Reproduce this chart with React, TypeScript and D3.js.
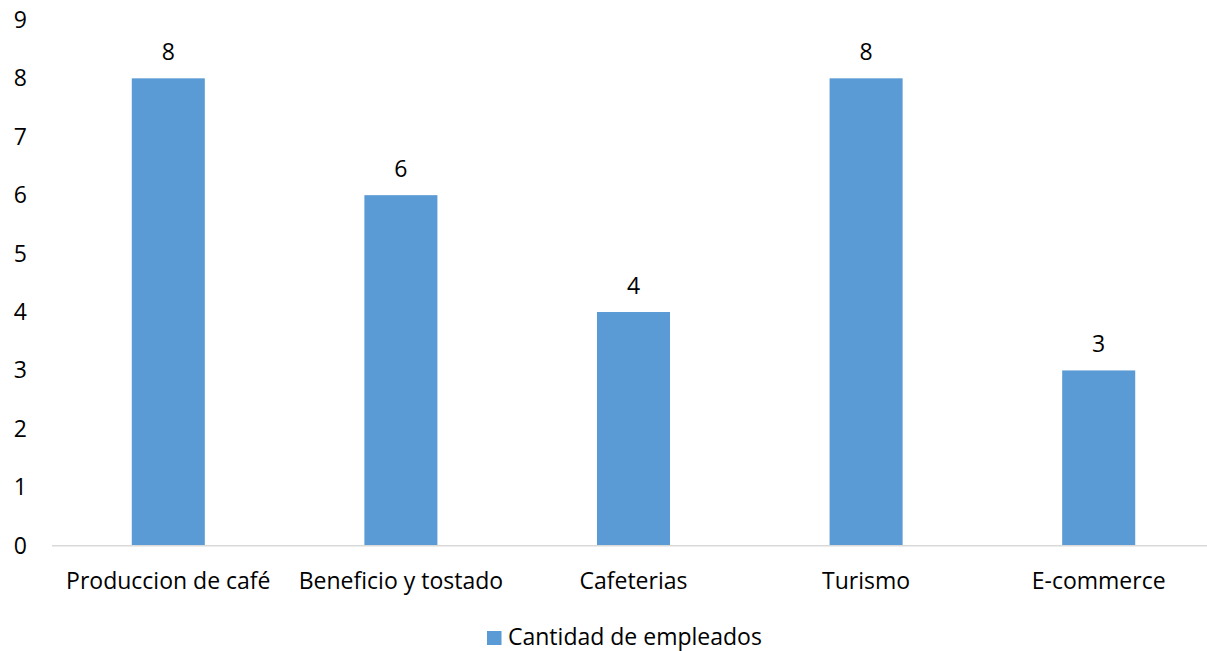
import React from "react";
import * as d3 from "d3";

const categories = ["Produccion de café", "Beneficio y tostado", "Cafeterias", "Turismo", "E-commerce"];
const empleados = [8, 6, 4, 8, 3];
const yTicks = [0, 1, 2, 3, 4, 5, 6, 7, 8, 9];
const seriesName = "Cantidad de empleados";

const W = 1207;
const H = 651;
const FONT = "'Open Sans', sans-serif";
const FS = 23;
const BAR = "#5B9BD5";

export default function App() {
  const x = d3
    .scaleBand<string>()
    .domain(categories)
    .range([52, 1215])
    .paddingInner(0.686)
    .paddingOuter(0.343);
  const y = d3.scaleLinear().domain([0, 9]).range([545.7, 19.9]);

  return (
    <svg
      width={W}
      height={H}
      style={{ position: "absolute", left: 0, top: 0, background: "#fff" }}
      fontFamily={FONT}
    >
      {/* value axis labels */}
      {yTicks.map((t) => (
        <text key={t} x={27} y={y(t)} dy="0.35em" textAnchor="end" fontSize={FS} fill="#000">
          {t}
        </text>
      ))}
      {/* bars */}
      {categories.map((c, i) => (
        <rect
          key={c}
          x={x(c)!}
          y={y(empleados[i])}
          width={x.bandwidth()}
          height={y(0) - y(empleados[i])}
          fill={BAR}
        />
      ))}
      {/* category axis */}
      <line x1={52} x2={W} y1={y(0)} y2={y(0)} stroke="#D9D9D9" strokeWidth={1.5} />
      {categories.map((c) => (
        <text
          key={c}
          x={x(c)! + x.bandwidth() / 2}
          y={589}
          textAnchor="middle"
          fontSize={FS}
          fill="#000"
        >
          {c}
        </text>
      ))}
      {/* data labels */}
      {categories.map((c, i) => (
        <text
          key={c}
          x={x(c)! + x.bandwidth() / 2}
          y={y(empleados[i]) - 18}
          textAnchor="middle"
          fontSize={FS}
          fill="#000"
        >
          {empleados[i]}
        </text>
      ))}
      {/* legend */}
      <rect x={487} y={631} width={14.5} height={14} fill={BAR} />
      <text x={508} y={645} fontSize={FS} fill="#000">
        {seriesName}
      </text>
    </svg>
  );
}
